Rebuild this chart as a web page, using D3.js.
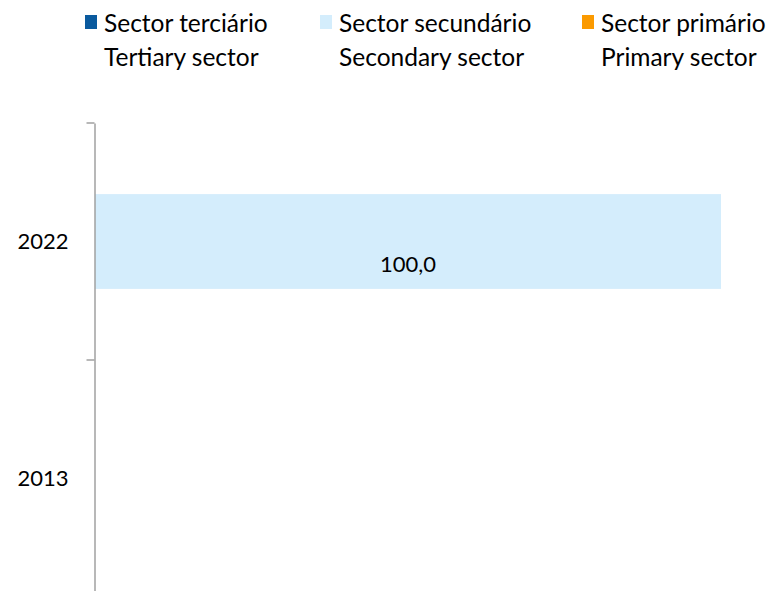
<!DOCTYPE html>
<html>
<head>
<meta charset="utf-8">
<script src="https://cdn.jsdelivr.net/npm/d3@7"></script>
<style>
  body { margin: 0; background: #fff; }
  text { font-family: Lato, "Noto Sans", sans-serif; fill: #000; }
</style>
</head>
<body>
<div id="chart"></div>
<script>
// data
var years = ["2022", "2013"]
var sectors = ["tertiary", "secondary", "primary"]
var tertiary = [0, 0]
var secondary = [100, 0]
var primary = [0, 0]
var legendPt = ["Sector terciário", "Sector secundário", "Sector primário"]
var legendEn = ["Tertiary sector", "Secondary sector", "Primary sector"]
var colors = ["#0a5a9e", "#d4edfc", "#fb9a00"]

var width = 769, height = 591

var svg = d3.select("#chart").append("svg")
  .attr("width", width)
  .attr("height", height)

// build rows for the stack
var rows = years.map(function (y, i) {
  return { year: y, tertiary: tertiary[i], secondary: secondary[i], primary: primary[i] }
})
var series = d3.stack().keys(sectors)(rows)

var xScale = d3.scaleLinear().domain([0, 100]).range([95, 721])
var yScale = d3.scaleBand().domain(years).range([123, 597]).padding(0)
var barH = yScale.bandwidth() * 0.4

var color = d3.scaleOrdinal().domain(sectors).range(colors)

// bars
svg.append("g")
  .selectAll("g")
  .data(series)
  .join("g")
  .attr("fill", function (d) { return color(d.key) })
  .selectAll("rect")
  .data(function (d) { return d })
  .join("rect")
  .attr("x", function (d) { return xScale(d[0]) })
  .attr("y", function (d) { return yScale(d.data.year) + (yScale.bandwidth() - barH) / 2 })
  .attr("width", function (d) { return xScale(d[1]) - xScale(d[0]) })
  .attr("height", barH)

// value labels (only non zero segments)
var fmt = function (v) { return d3.format(".1f")(v).replace(".", ",") }
series.forEach(function (s) {
  s.forEach(function (d) {
    var v = d[1] - d[0]
    if (v <= 0) return
    svg.append("text")
      .attr("x", (xScale(d[0]) + xScale(d[1])) / 2)
      .attr("y", yScale(d.data.year) + yScale.bandwidth() / 2 + 22)
      .attr("text-anchor", "middle")
      .attr("dominant-baseline", "central")
      .style("font-size", "22px")
      .text(fmt(v))
  })
})

// y axis: line with ticks on the category boundaries
var axisG = svg.append("g")
  .attr("transform", "translate(94.5,0)")
  .call(d3.axisLeft(yScale).tickSize(0).tickPadding(26))
axisG.select(".domain").attr("stroke", "#a0a0a0").attr("stroke-width", 1.5)
axisG.selectAll("text").style("font-size", "22px")
var bounds = years.map(function (y) { return yScale(y) }).concat([yScale.range()[1]])
axisG.selectAll(".bound")
  .data(bounds)
  .join("line")
  .attr("class", "bound")
  .attr("x1", -8).attr("x2", 0)
  .attr("y1", function (d) { return d }).attr("y2", function (d) { return d })
  .attr("stroke", "#a0a0a0")
  .attr("stroke-width", 1.5)

// legend
var legX = [85, 320, 582]
var leg = svg.append("g")
  .selectAll("g")
  .data(sectors)
  .join("g")
  .attr("transform", function (d, i) { return "translate(" + legX[i] + ",0)" })
leg.append("rect")
  .attr("x", 0).attr("y", 15)
  .attr("width", 12).attr("height", 14)
  .attr("fill", function (d) { return color(d) })
leg.append("text")
  .attr("x", 19).attr("y", 22)
  .attr("dominant-baseline", "central")
  .style("font-size", "24.5px")
  .text(function (d, i) { return legendPt[i] })
leg.append("text")
  .attr("x", 19).attr("y", 56)
  .attr("dominant-baseline", "central")
  .style("font-size", "24.5px")
  .text(function (d, i) { return legendEn[i] })
</script>
</body>
</html>
